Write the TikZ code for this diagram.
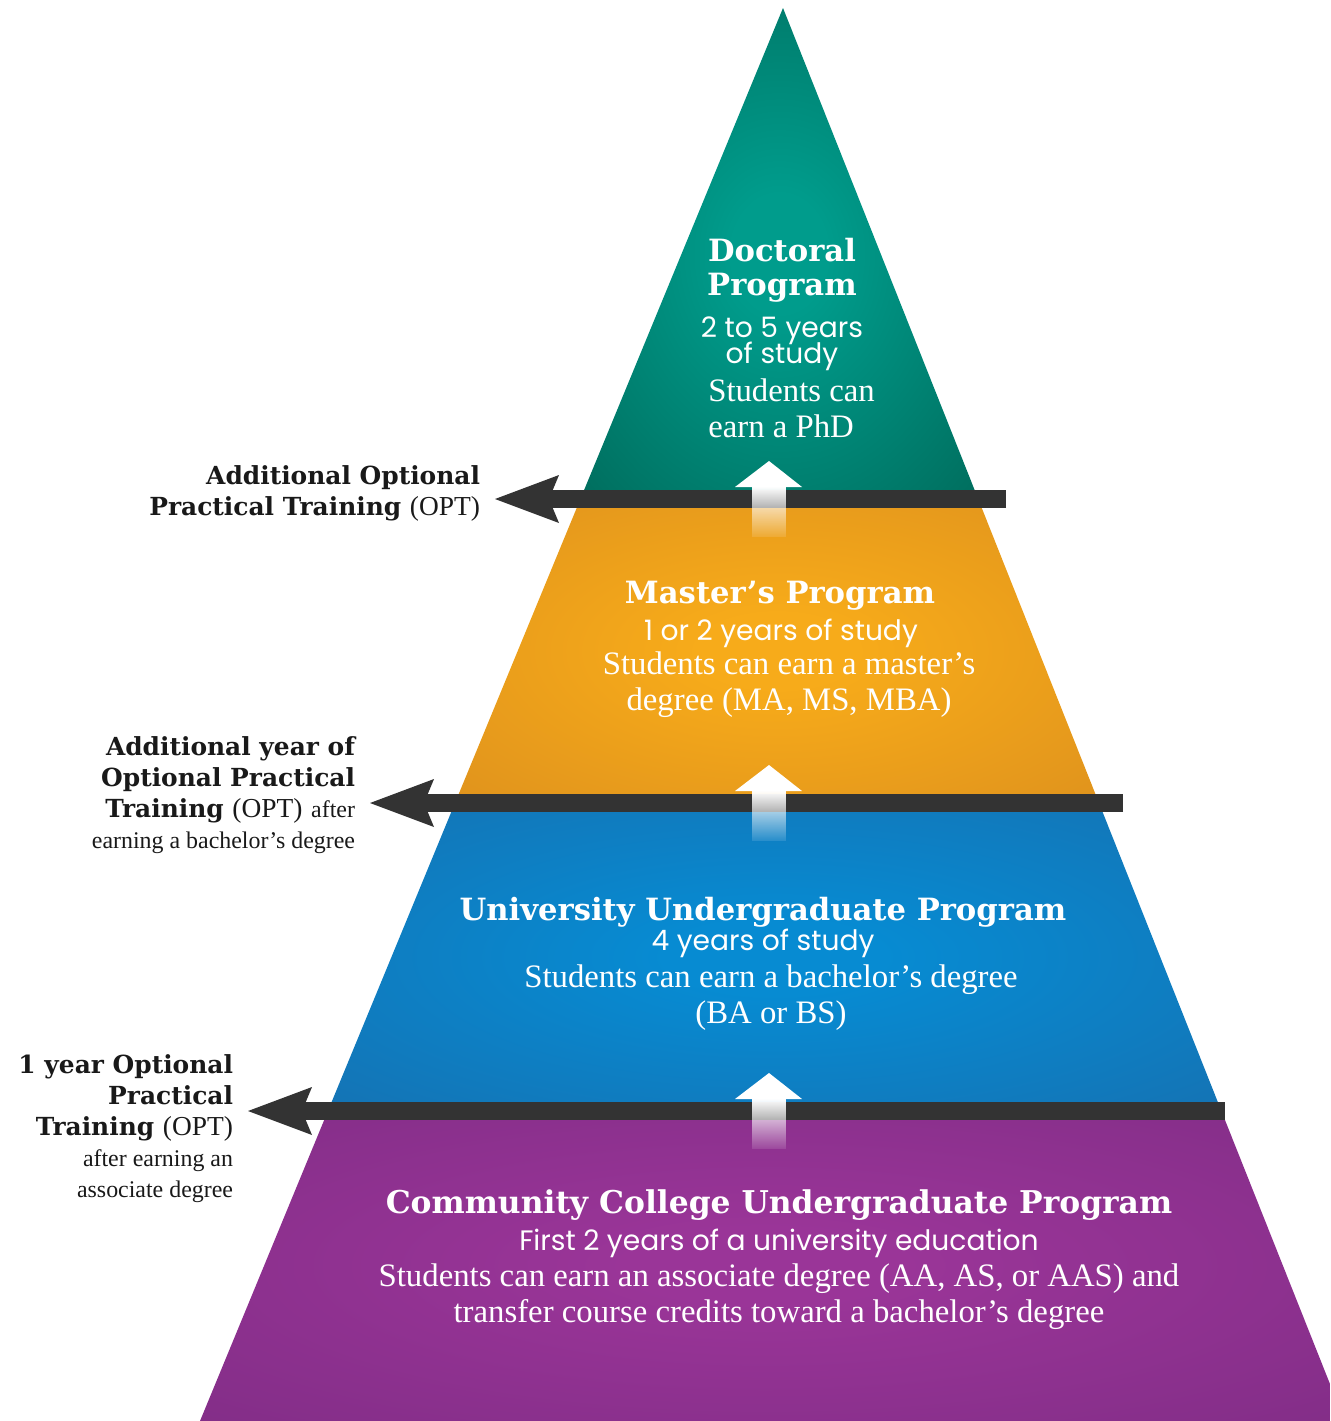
\documentclass[tikz,border=0pt]{standalone}
\usepackage{fontspec}
\setmainfont{Liberation Serif}
\newfontfamily\slabfont{DejaVu Serif}
\newfontfamily\geofont{Poppins}
\usetikzlibrary{arrows.meta,fadings}
\setlength{\lineskiplimit}{-20pt}

\definecolor{phdlight}{HTML}{009C8C}
\definecolor{phddark}{HTML}{005646}
\definecolor{malight}{HTML}{F7AB1A}
\definecolor{madark}{HTML}{D4871E}
\definecolor{balight}{HTML}{078BD2}
\definecolor{badark}{HTML}{1B67A5}
\definecolor{aalight}{HTML}{9A3598}
\definecolor{aadark}{HTML}{782A80}
\definecolor{optgray}{HTML}{333333}

\pgfdeclareradialshading{phdglow}{\pgfpoint{0bp}{0bp}}{color(0bp)=(phdlight); color(6bp)=(phdlight); color(50bp)=(phddark)}
\pgfdeclareradialshading{maglow}{\pgfpoint{0bp}{0bp}}{color(0bp)=(malight); color(6bp)=(malight); color(50bp)=(madark)}
\pgfdeclareradialshading{baglow}{\pgfpoint{0bp}{0bp}}{color(0bp)=(balight); color(6bp)=(balight); color(50bp)=(badark)}
\pgfdeclareradialshading{aaglow}{\pgfpoint{0bp}{0bp}}{color(0bp)=(aalight); color(6bp)=(aalight); color(50bp)=(aadark)}

\tikzfading[name=upfade, top color=transparent!0, middle color=transparent!25, bottom color=transparent!90]

\newcommand\optb{\slabfont\bfseries\fontsize{17.7}{22}\selectfont}
\newcommand\optr{\rmfamily\mdseries\fontsize{19.5}{22}\selectfont}
\newcommand\optsm{\rmfamily\mdseries\fontsize{17}{22}\selectfont}

\tikzset{
  levelhead/.style={text=white, align=center, inner sep=0pt, anchor=base,
    font=\slabfont\bfseries\fontsize{21.8}{23.5}\selectfont},
  levelspan/.style={text=white, align=center, inner sep=0pt, anchor=base,
    font=\geofont\fontsize{20}{18.3}\selectfont},
  levelearn/.style={text=white, align=center, inner sep=0pt, anchor=base,
    font=\fontsize{23.3}{25}\selectfont},
  optlabel/.style={text=black!90, align=right, inner sep=0pt, outer xsep=0.375cm,
    anchor=base east, font=\optb},
  optbar/.style={draw=optgray, line width=0.45cm,
    -{Stealth[length=1.6cm, width=1.2cm, inset=0.25cm, line width=0pt]}}
}

\begin{document}
\begin{tikzpicture}[x=0.025cm, y=-0.025cm]
  \useasboundingbox (0,0) rectangle (1330,1421);
  \shade[shading=phdglow] (783,8) -- (978.2,499) -- (580.4,499) -- cycle;
  \shade[shading=maglow] (580.4,499) -- (978.2,499) -- (1099,803) -- (455,803) -- cycle;
  \shade[shading=baglow] (455,803) -- (1099,803) -- (1221.4,1111) -- (327.9,1111) -- cycle;
  \shade[shading=aaglow] (327.9,1111) -- (1221.4,1111) -- (1330,1384) -- (1330,1421) -- (200,1421) -- cycle;

  % multi-line nodes sit on the baseline of their last line
  \path
    (782,295) node[levelhead] (phdhead) {Doctoral\\Program}
    (782,363) node[levelspan] (phdspan) {2 to 5 years\\of study}
    (708,437) node[levelearn, align=left, anchor=base west] (phdearn) {Students can\\earn a PhD}
    (780,603) node[levelhead] (mahead) {Master’s Program}
    (781,640) node[levelspan] (maspan) {1 or 2 years of study}
    (789,710) node[levelearn] (maearn) {Students can earn a master’s\\degree (MA, MS, MBA)}
    (763,920) node[levelhead] (bahead) {University Undergraduate Program}
    (763,950) node[levelspan] (baspan) {4 years of study}
    (771,1023) node[levelearn] (baearn) {Students can earn a bachelor’s degree\\(BA or BS)}
    (779,1213) node[levelhead, font=\slabfont\bfseries\fontsize{22.3}{23.5}\selectfont] (aahead) {Community College Undergraduate Program}
    (779,1250) node[levelspan] (aaspan) {First 2 years of a university education}
    (779,1322) node[levelearn] (aaearn) {Students can earn an associate degree (AA, AS, or AAS) and\\transfer course credits toward a bachelor’s degree}
    (495,515) node[optlabel] (opt1) {Additional Optional\\Practical Training {\optr (OPT)}}
    (370,848) node[optlabel] (opt2) {Additional year of\\Optional Practical\\Training {\optr (OPT)} {\optsm after}\\{\optsm earning a bachelor’s degree}}
    (248,1197) node[optlabel] (opt3) {1 year Optional\\Practical\\Training {\optr (OPT)}\\{\optsm after earning an}\\{\optsm associate degree}}
    (1006,499) coordinate (bar1)
    (1123,803) coordinate (bar2)
    (1225,1111) coordinate (bar3);

  \begin{scope}[optbar]
    \draw (bar1) -- (bar1 -| opt1.east);
    \draw (bar2) -- (bar2 -| opt2.east);
    \draw (bar3) -- (bar3 -| opt3.east);
  \end{scope}

  \foreach \y in {499,803,1111} {
    \fill[white] (769,\y-38) -- (802,\y-12) -- (735,\y-12) -- cycle;
    \fill[white, path fading=upfade] (752,\y-12.5) rectangle (786,\y+38);
  }
\end{tikzpicture}
\end{document}
